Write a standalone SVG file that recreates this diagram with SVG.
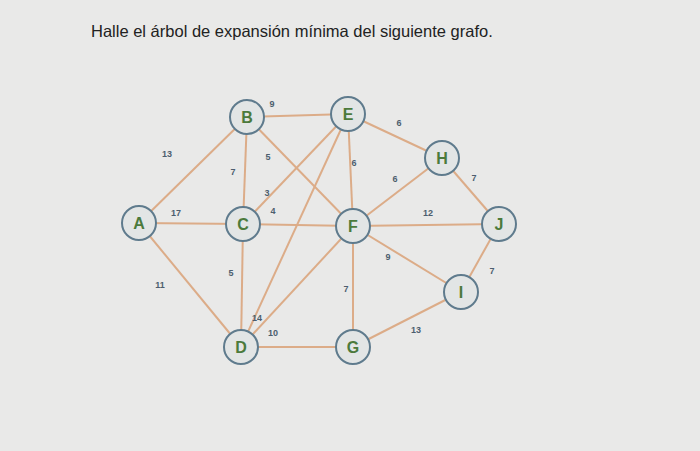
<svg xmlns="http://www.w3.org/2000/svg" width="700" height="451" viewBox="0 0 700 451">
<style>
.e{stroke:#dcac88;stroke-width:2;fill:none}
.n circle{fill:#e2e5e5;stroke:#5f7b8d;stroke-width:2}
.n text{font-family:"Liberation Sans",Arial,sans-serif;font-weight:bold;font-size:16px;fill:#4b7a3c;text-anchor:middle}
.w{font-family:"Liberation Sans",Arial,sans-serif;font-weight:bold;font-size:9px;fill:#4d5e6e;text-anchor:middle}
</style>
<rect width="700" height="451" fill="#e9e9e8"/>
<text x="91" y="37" font-family="Liberation Sans,Arial,sans-serif" font-size="16.5" fill="#222">Halle el árbol de expansión mínima del siguiente grafo.</text>
<g id="connectors">
<line class="e" x1="139" y1="223" x2="247" y2="117"/>
<line class="e" x1="139" y1="223" x2="243" y2="224"/>
<line class="e" x1="139" y1="223" x2="241" y2="347"/>
<line class="e" x1="247" y1="117" x2="348" y2="114"/>
<line class="e" x1="247" y1="117" x2="243" y2="224"/>
<line class="e" x1="247" y1="117" x2="353" y2="226"/>
<line class="e" x1="243" y1="224" x2="348" y2="114"/>
<line class="e" x1="243" y1="224" x2="353" y2="226"/>
<line class="e" x1="243" y1="224" x2="241" y2="347"/>
<line class="e" x1="348" y1="114" x2="241" y2="347"/>
<line class="e" x1="348" y1="114" x2="353" y2="226"/>
<line class="e" x1="348" y1="114" x2="442" y2="158"/>
<line class="e" x1="353" y1="226" x2="442" y2="158"/>
<line class="e" x1="353" y1="226" x2="499" y2="224"/>
<line class="e" x1="353" y1="226" x2="461" y2="292"/>
<line class="e" x1="353" y1="226" x2="353" y2="347"/>
<line class="e" x1="353" y1="226" x2="241" y2="347"/>
<line class="e" x1="241" y1="347" x2="353" y2="347"/>
<line class="e" x1="353" y1="347" x2="461" y2="292"/>
<line class="e" x1="442" y1="158" x2="499" y2="224"/>
<line class="e" x1="499" y1="224" x2="461" y2="292"/>
</g>
<g id="weights">
<text class="w" x="167" y="157">13</text>
<text class="w" x="176" y="216">17</text>
<text class="w" x="160" y="288">11</text>
<text class="w" x="272" y="107">9</text>
<text class="w" x="233" y="175">7</text>
<text class="w" x="268" y="160">5</text>
<text class="w" x="267" y="196">3</text>
<text class="w" x="273" y="214">4</text>
<text class="w" x="231" y="276">5</text>
<text class="w" x="257" y="321">14</text>
<text class="w" x="273" y="336">10</text>
<text class="w" x="354" y="166">6</text>
<text class="w" x="346" y="292">7</text>
<text class="w" x="399" y="126">6</text>
<text class="w" x="395" y="182">6</text>
<text class="w" x="428" y="216">12</text>
<text class="w" x="388" y="260">9</text>
<text class="w" x="474" y="181">7</text>
<text class="w" x="492" y="274">7</text>
<text class="w" x="416" y="333">13</text>
</g>
<g id="A" class="n"><circle cx="139" cy="223" r="17"/><text x="139" y="229">A</text></g>
<g id="B" class="n"><circle cx="247" cy="117" r="17"/><text x="247" y="123">B</text></g>
<g id="C" class="n"><circle cx="243" cy="224" r="17"/><text x="243" y="230">C</text></g>
<g id="D" class="n"><circle cx="241" cy="347" r="17"/><text x="241" y="353">D</text></g>
<g id="E" class="n"><circle cx="348" cy="114" r="17"/><text x="348" y="120">E</text></g>
<g id="F" class="n"><circle cx="353" cy="226" r="17"/><text x="353" y="232">F</text></g>
<g id="G" class="n"><circle cx="353" cy="347" r="17"/><text x="353" y="353">G</text></g>
<g id="H" class="n"><circle cx="442" cy="158" r="17"/><text x="442" y="164">H</text></g>
<g id="I" class="n"><circle cx="461" cy="292" r="17"/><text x="461" y="298">I</text></g>
<g id="J" class="n"><circle cx="499" cy="224" r="17"/><text x="499" y="230">J</text></g>
</svg>
